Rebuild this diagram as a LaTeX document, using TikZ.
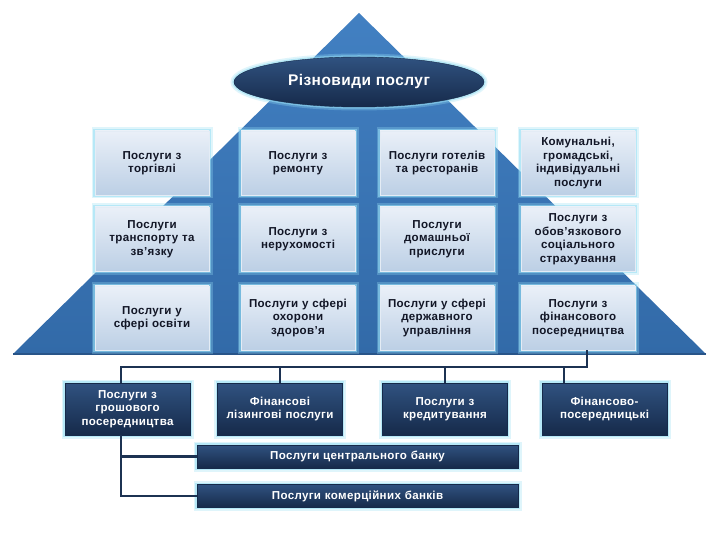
\documentclass[tikz,border=0pt]{standalone}
\usepackage{fontspec}
\setmainfont{Liberation Sans}
\newfontfamily\lsb[LetterSpace=3]{Liberation Sans}
\newcommand\lfont{\lsb\bfseries\fontsize{11.6}{13.6}\selectfont}
\newcommand\tfont{\lsb\bfseries\fontsize{15.5}{18}\selectfont}
\usetikzlibrary{shapes.geometric}
\definecolor{tri}{RGB}{66,128,194}
\definecolor{tribot}{RGB}{50,106,168}
\definecolor{tridark}{RGB}{40,84,136}
\definecolor{lighttop}{RGB}{234,240,248}
\definecolor{lightbot}{RGB}{188,207,229}
\definecolor{navytop}{RGB}{48,82,128}
\definecolor{navybot}{RGB}{22,42,74}
\definecolor{glowc}{RGB}{150,222,245}
\definecolor{linec}{RGB}{28,50,82}
\definecolor{txt}{RGB}{18,22,38}
\begin{document}
\begin{tikzpicture}[x=1bp,y=-1bp,
  glow/.style={preaction={draw=glowc,line width=7bp,opacity=0.3},
               preaction={draw=glowc,line width=3.5bp,opacity=0.55}},
  lbox/.style={rectangle, glow, top color=lighttop, bottom color=lightbot,
               draw=white!60!lightbot, line width=0.8bp,
               minimum width=114bp, minimum height=64bp, inner sep=0pt,
               text width=112bp, align=center, font=\lfont, text=txt},
  dbox/.style={rectangle, glow, top color=navytop, bottom color=navybot,
               draw=navybot, line width=0.6bp,
               minimum width=125bp, minimum height=52bp, inner sep=0pt,
               text width=123bp, align=center, font=\lfont, text=white},
  wbox/.style={dbox, minimum width=321bp, minimum height=23bp, text width=300bp},
  conn/.style={draw=linec, line width=2.2bp}]
\useasboundingbox (0,0) rectangle (720,540);
\fill[white] (0,0) rectangle (720,540);
% pyramid
\shade[top color=tri, bottom color=tribot] (13,354) -- (359,13) -- (706,354) -- cycle;
\draw[tridark, line width=1.2bp] (13,354) -- (706,354);
% title
\node[ellipse, glow, top color=navytop, bottom color=navybot, draw=navybot,
      minimum width=250bp, minimum height=50bp, font=\tfont, text=white]
      (title) at (359,82) {Різновиди послуг};
% grid of light boxes
\node[lbox] (r1c1) at (152,163) {Послуги з\\торгівлі};
\node[lbox] (r1c2) at (298,163) {Послуги з\\ремонту};
\node[lbox] (r1c3) at (437,163) {Послуги готелів\\та ресторанів};
\node[lbox] (r1c4) at (578,163) {Комунальні,\\громадські,\\індивідуальні\\послуги};
\node[lbox] (r2c1) at (152,239) {Послуги\\транспорту та\\зв’язку};
\node[lbox] (r2c2) at (298,239) {Послуги з\\нерухомості};
\node[lbox] (r2c3) at (437,239) {Послуги\\домашньої\\прислуги};
\node[lbox] (r2c4) at (578,239) {Послуги з\\обов’язкового\\соціального\\страхування};
\node[lbox] (r3c1) at (152,318) {Послуги у\\сфері освіти};
\node[lbox] (r3c2) at (298,318) {Послуги у сфері\\охорони\\здоров’я};
\node[lbox] (r3c3) at (437,318) {Послуги у сфері\\державного\\управління};
\node[lbox] (r3c4) at (578,318) {Послуги з\\фінансового\\посередництва};
% dark boxes
\node[dbox] (b1) at (127.5,409) {Послуги з\\грошового\\посередництва};
\node[dbox] (b2) at (280,409) {Фінансові\\лізингові послуги};
\node[dbox] (b3) at (445,409) {Послуги з\\кредитування};
\node[dbox] (b4) at (604.5,409) {Фінансово-\\посередницькі};
\node[wbox] (cb) at (357.5,456.5) {Послуги центрального банку};
\node[wbox] (kb) at (357.5,496) {Послуги комерційних банків};
% connectors
\coordinate (busR) at (587,367);
\coordinate (busL) at (121,367);
\coordinate (lowL) at (121,496);
\coordinate (drop4) at (564,367);
\draw[conn] (r3c4.south -| busR) -- (busR) -- (busL) -- (b1.north -| busL);
\draw[conn] (busL -| b2) -- (b2.north);
\draw[conn] (busL -| b3) -- (b3.north);
\draw[conn] (drop4) -- (b4.north -| drop4);
\draw[conn] (b1.south -| busL) -- (lowL) -- (kb.west);
\draw[conn] (cb.west -| busL) -- (cb.west);
\end{tikzpicture}
\end{document}
